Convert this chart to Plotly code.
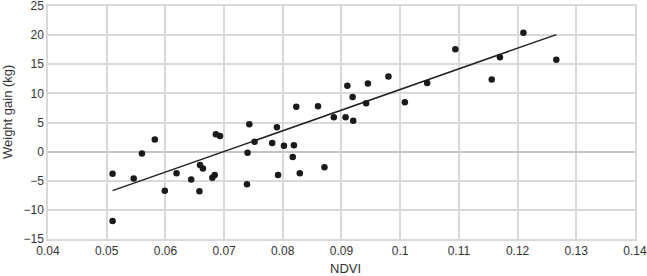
import plotly.graph_objects as go

ndvi = [0.0510, 0.0510, 0.0546, 0.0560, 0.0582, 0.0599, 0.0619, 0.0644, 0.0658, 0.0659,
        0.0664, 0.0680, 0.0684, 0.0686, 0.0693, 0.0739, 0.0740, 0.0743, 0.0752, 0.0782,
        0.0790, 0.0792, 0.0802, 0.0817, 0.0819, 0.0823, 0.0829, 0.0860, 0.0871, 0.0887,
        0.0907, 0.0910, 0.0919, 0.0920, 0.0942, 0.0945, 0.0980, 0.1008, 0.1046, 0.1094,
        0.1156, 0.1170, 0.1210, 0.1266]
weight_gain = [-3.8, -11.9, -4.6, -0.3, 2.1, -6.7, -3.7, -4.8, -6.8, -2.3,
               -2.9, -4.5, -4.0, 3.0, 2.7, -5.6, -0.2, 4.7, 1.7, 1.5,
               4.2, -4.0, 1.0, -0.9, 1.1, 7.7, -3.7, 7.8, -2.7, 5.9,
               5.9, 11.3, 9.4, 5.3, 8.3, 11.7, 12.9, 8.5, 11.8, 17.6,
               12.4, 16.2, 20.4, 15.8]
trend_x = [0.0510, 0.1266]
trend_y = [-6.7, 20.1]
x_tickvals = [0.04, 0.05, 0.06, 0.07, 0.08, 0.09, 0.10, 0.11, 0.12, 0.13, 0.14]
x_ticktext = ["0.04", "0.05", "0.06", "0.07", "0.08", "0.09", "0.1", "0.11", "0.12", "0.13", "0.14"]
y_tickvals = [-15, -10, -5, 0, 5, 10, 15, 20, 25]
y_ticktext = ["\u221215", "\u221210", "\u22125", "0", "5", "10", "15", "20", "25"]

fig = go.Figure()
fig.add_trace(go.Scatter(x=trend_x, y=trend_y, mode="lines",
                         line=dict(color="#222222", width=1.5), showlegend=False))
fig.add_trace(go.Scatter(x=ndvi, y=weight_gain, mode="markers",
                         marker=dict(color="#1a1a1a", size=6.5), showlegend=False))

grid = "#d9d9d9"
fig.update_layout(
    width=647, height=276,
    margin=dict(l=48, r=12, t=6, b=37, autoexpand=False),
    paper_bgcolor="white", plot_bgcolor="white",
    font=dict(family="Liberation Sans, Arial, sans-serif", size=12, color="#333333"),
    xaxis=dict(range=[0.04, 0.14001], tickmode="array", tickvals=x_tickvals, ticktext=x_ticktext,
               tickangle=0, automargin=False, ticklabeloverflow="allow",
               showgrid=True, gridcolor=grid, gridwidth=1.5,
               showline=True, linecolor=grid, linewidth=1.5, mirror=True,
               zeroline=False, ticks=""),
    yaxis=dict(range=[-15, 25.01], tickmode="array", tickvals=y_tickvals, ticktext=y_ticktext,
               automargin=False, ticklabeloverflow="allow",
               showgrid=True, gridcolor=grid, gridwidth=1.5,
               showline=True, linecolor=grid, linewidth=1.5, mirror=True,
               zeroline=True, zerolinecolor="#c4c4c4", zerolinewidth=2, ticks=""),
    annotations=[
        dict(text="NDVI", xref="paper", yref="paper", x=0.506, y=0, xanchor="center",
             yanchor="middle", yshift=-29, showarrow=False, font=dict(size=13, color="#333333")),
        dict(text="Weight gain (kg)", xref="paper", yref="paper", x=0, y=0.545,
             xanchor="center", yanchor="middle", xshift=-41, textangle=-90,
             showarrow=False, font=dict(size=13, color="#333333")),
    ],
)
fig.write_html("out.html", config={"displayModeBar": False},
               post_script="document.body.style.margin='0';document.body.style.padding='0';document.body.style.overflow='hidden';")
